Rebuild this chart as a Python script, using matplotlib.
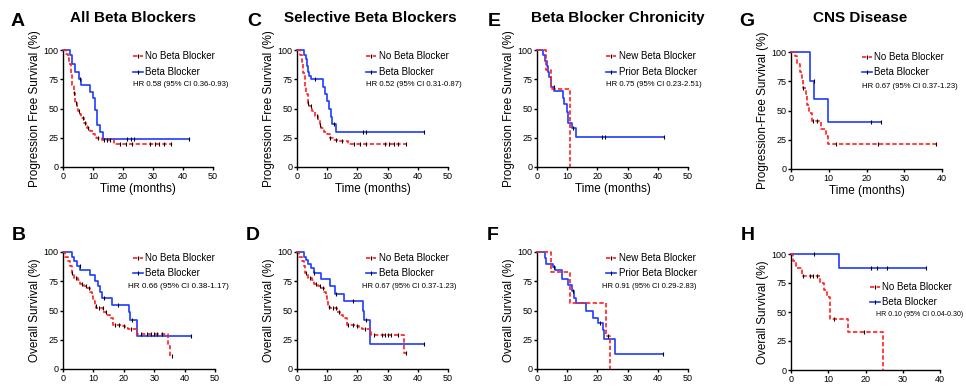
import numpy as np
import matplotlib
matplotlib.use("Agg")
import matplotlib.pyplot as plt

plt.rcParams['font.family'] = ['Liberation Sans', 'DejaVu Sans']

RED = '#ff2020'
BLUE = '#1f3cff'

# ---- data: step times (months), survival (%), end of follow-up, censor times ----
# A: PFS, all beta blockers
A_no_t = [0, 1, 1.5, 2, 2.5, 3, 3.5, 4, 4.5, 5, 5.5, 6, 7, 7.5, 8, 9, 10, 10.5, 11, 13, 17]
A_no_s = [100, 97, 93, 88, 80, 70, 63, 55, 52, 48, 45, 42, 38, 35, 33, 31, 28, 26, 25, 23, 20]
A_no_end = 36
A_no_c = [3.7, 4.3, 5.2, 6.5, 7.2, 8.4, 11.5, 13.5, 14.5, 15.5, 19, 21, 23, 29, 30.5, 32, 33.5, 36]
A_bb_t = [0, 2.2, 3, 4, 5.3, 6, 8.9, 10, 10.8, 11.3, 12.2, 13.4]
A_bb_s = [100, 96, 88, 81, 75, 70, 64, 59, 49, 36, 30, 24]
A_bb_end = 42
A_bb_c = [5.8, 21.5, 22.5, 23.5, 42]

# C: PFS, selective beta blockers
C_no_t = [0, 1, 1.5, 2, 2.5, 3, 3.5, 4, 5, 6, 7, 7.5, 8, 9, 10, 11, 12, 14, 17]
C_no_s = [100, 96, 90, 80, 68, 62, 55, 52, 48, 44, 40, 36, 33, 30, 28, 25, 23, 22, 20]
C_no_end = 36
C_no_c = [3.6, 4.5, 6.5, 7.5, 11, 13, 15, 19, 21, 23, 29, 30.5, 32, 33.5, 36]
C_bb_t = [0, 2.2, 2.9, 3.3, 3.6, 4.0, 4.8, 8.6, 9.3, 10.0, 10.6, 11.1, 11.7, 13.0]
C_bb_s = [100, 96, 92, 86, 81, 78, 75, 68, 62, 56, 50, 43, 37, 30]
C_bb_end = 42
C_bb_c = [6, 12.2, 22, 23, 42]

# E: PFS, beta blocker chronicity
E_new_t = [0, 3, 4.7, 11]
E_new_s = [100, 83, 67, 0]
E_new_end = 11
E_new_c = []
E_prior_t = [0, 2, 2.8, 3.3, 3.7, 4.0, 4.8, 5.7, 8.6, 9.1, 9.9, 10.4, 11.5, 12.8]
E_prior_s = [100, 96, 91, 86, 81, 77, 68, 65, 59, 54, 47, 38, 33, 26]
E_prior_end = 42
E_prior_c = [5.5, 11.8, 21.5, 22.5, 42]

# G: PFS, CNS disease
G_no_t = [0, 1.1, 1.5, 2.4, 2.8, 3.3, 4.0, 4.3, 4.9, 5.5, 8.0, 9.3, 9.9]
G_no_s = [100, 97, 90, 83, 76, 69, 62, 55, 48, 41, 34, 28, 21]
G_no_end = 38.5
G_no_c = [3.3, 5.8, 7, 11.8, 23, 38.5]
G_bb_t = [0, 5, 6.2, 9.9]
G_bb_s = [100, 75, 60, 40]
G_bb_end = 23.8
G_bb_c = [6.1, 21.3, 23.8]

# B: OS, all beta blockers
B_no_t = [0, 0.7, 1.8, 2.3, 2.8, 3.6, 5, 5.6, 7, 7.8, 8.9, 9.5, 10, 10.4, 11, 13.3, 14.3, 15.3, 16.5, 19.3, 20.4, 21.5, 24.5, 34.5, 35.3]
B_no_s = [100, 96, 92, 88, 82, 78, 76, 73, 71, 69, 66, 62, 58, 54, 52, 49, 46, 44, 38, 37, 35, 34, 30, 20, 11]
B_no_end = 36
B_no_c = [3, 4.2, 6.3, 7.5, 8.5, 10.7, 12, 13, 14, 17, 18.5, 20, 22.5, 25.5, 27.5, 29, 30, 31, 32.5, 36]
B_bb_t = [0, 2.8, 3.6, 4.5, 5.6, 8.9, 10.5, 11.5, 12.2, 12.7, 16.0, 21.6, 22.1, 24.2]
B_bb_s = [100, 96, 92, 88, 85, 80, 75, 71, 66, 61, 55, 49, 42, 28]
B_bb_end = 42
B_bb_c = [5.5, 13.5, 18, 22.8, 42]

# D: OS, selective beta blockers
D_no_t = [0, 0.7, 1.8, 2.3, 2.8, 3.6, 5, 5.6, 7, 7.8, 8.9, 9.5, 10, 10.4, 11, 13.3, 14.3, 15.3, 16.5, 19.3, 20.4, 21.5, 24.5, 35.5]
D_no_s = [100, 96, 92, 88, 82, 78, 76, 73, 71, 69, 66, 62, 58, 53, 52, 49, 46, 44, 38, 37, 35, 34, 29, 14]
D_no_end = 36
D_no_c = [3, 4.2, 6.3, 7.5, 8.5, 10.7, 12, 13, 14, 17, 18.5, 20, 22.5, 25.5, 28, 29, 30, 31, 33.5, 36]
D_bb_t = [0, 2.4, 3.0, 3.8, 4.7, 5.5, 8.0, 10.8, 12.5, 15.6, 21.8, 22.3, 24.2]
D_bb_s = [100, 96, 93, 90, 86, 82, 77, 71, 64, 58, 50, 42, 21]
D_bb_end = 42
D_bb_c = [5.5, 12.8, 18.5, 22.8, 42]

# F: OS, beta blocker chronicity
F_new_t = [0, 4.5, 10.8, 22.8, 24.3]
F_new_s = [100, 83, 56, 28, 0]
F_new_end = 24.3
F_new_c = [23.5]
F_prior_t = [0, 2.5, 3.1, 5.2, 5.9, 8.4, 10.3, 11.7, 12.4, 12.8, 16.3, 18.5, 20.3, 21.7, 22.2, 25.7]
F_prior_s = [100, 95, 90, 87, 85, 77, 72, 67, 61, 56, 50, 44, 39, 33, 26, 13]
F_prior_end = 41.7
F_prior_c = [5.5, 11.9, 21, 41.7]

# H: OS, CNS disease
H_no_t = [0, 0.6, 1.3, 2.9, 7.8, 8.8, 9.7, 10.4, 15.4, 24.6]
H_no_s = [100, 94, 88, 81, 75, 69, 63, 44, 33, 0]
H_no_end = 24.6
H_no_c = [3.3, 5, 6, 7, 11.5, 19.5]
H_bb_t = [0, 12.8]
H_bb_s = [100, 88]
H_bb_end = 36.3
H_bb_c = [6.2, 21.5, 23, 25.8, 36.3]

HR_text = {
    'A': 'HR 0.58 (95% CI 0.36-0.93)',
    'C': 'HR 0.52 (95% CI 0.31-0.87)',
    'E': 'HR 0.75 (95% CI 0.23-2.51)',
    'G': 'HR 0.67 (95% CI 0.37-1.23)',
    'B': 'HR 0.66 (95% CI 0.38-1.17)',
    'D': 'HR 0.67 (95% CI 0.37-1.23)',
    'F': 'HR 0.91 (95% CI 0.29-2.83)',
    'H': 'HR 0.10 (95% CI 0.04-0.30)',
}
titles = {'A': 'All Beta Blockers', 'C': 'Selective Beta Blockers',
          'E': 'Beta Blocker Chronicity', 'G': 'CNS Disease'}

W, H = 966, 388


def px_rect(l, t, r, b):
    return [l / W, 1 - b / H, (r - l) / W, (b - t) / H]


def km(ax, t, s, end, cens, color, dashed):
    t = np.asarray(t, float)
    s = np.asarray(s, float)
    ls = (0, (2.6, 1.4)) if dashed else '-'
    ax.step(np.append(t, end), np.append(s, s[-1]), where='post',
            color=color, lw=1.2, ls=ls, clip_on=False, zorder=3)
    if len(cens):
        idx = np.searchsorted(t, cens, side='right') - 1
        ax.plot(cens, s[idx], ls='none', marker='|', ms=3.5, mew=0.8,
                color='black', clip_on=False, zorder=4)


def key(ax, x, y, label, color, dashed):
    ls = (0, (2.6, 1.4)) if dashed else '-'
    ax.plot([x, x + 0.066], [y, y], transform=ax.transAxes, color=color,
            lw=1.2, ls=ls, clip_on=False)
    ax.plot([x + 0.033], [y], transform=ax.transAxes, marker='|', ms=3,
            mew=0.8, color='black', clip_on=False)
    ax.text(x + 0.08, y, label, transform=ax.transAxes, fontsize=7,
            va='center', ha='left')


fig = plt.figure(figsize=(W / 100, H / 100), dpi=100)

# panel: letter, rect(px), xmax, ylabel, curves, key labels,
# key (x frac, row1 y px, row2 y px, hr x frac, hr y px, hr size), letter pos, title x
panels = [
    ('A', (63, 50, 213, 167), 50, 'Progression Free Survival (%)',
     [(A_bb_t, A_bb_s, A_bb_end, A_bb_c, BLUE, False), (A_no_t, A_no_s, A_no_end, A_no_c, RED, True)],
     ('No Beta Blocker', 'Beta Blocker'), (0.466, 56, 72, 0.466, 85, 5.6), (18, 22), 133),
    ('C', (297, 50, 448, 167), 50, 'Progression Free Survival (%)',
     [(C_bb_t, C_bb_s, C_bb_end, C_bb_c, BLUE, False), (C_no_t, C_no_s, C_no_end, C_no_c, RED, True)],
     ('No Beta Blocker', 'Beta Blocker'), (0.46, 56, 72, 0.46, 85, 5.6), (254, 22), 370),
    ('E', (537, 50, 688, 167), 50, 'Progression Free Survival (%)',
     [(E_prior_t, E_prior_s, E_prior_end, E_prior_c, BLUE, False), (E_new_t, E_new_s, E_new_end, E_new_c, RED, True)],
     ('New Beta Blocker', 'Prior Beta Blocker'), (0.46, 56, 72, 0.46, 85, 5.6), (494, 22), 618),
    ('G', (791, 52, 942, 169), 40, 'Progression-Free Survival (%)',
     [(G_bb_t, G_bb_s, G_bb_end, G_bb_c, BLUE, False), (G_no_t, G_no_s, G_no_end, G_no_c, RED, True)],
     ('No Beta Blocker', 'Beta Blocker'), (0.47, 57, 72, 0.47, 87, 5.6), (747, 22), 860),
    ('B', (63, 252, 215, 369), 50, 'Overall Survival (%)',
     [(B_bb_t, B_bb_s, B_bb_end, B_bb_c, BLUE, False), (B_no_t, B_no_s, B_no_end, B_no_c, RED, True)],
     ('No Beta Blocker', 'Beta Blocker'), (0.46, 258, 273, 0.43, 287, 5.9), (19, 236), None),
    ('D', (297, 252, 448, 369), 50, 'Overall Survival (%)',
     [(D_bb_t, D_bb_s, D_bb_end, D_bb_c, BLUE, False), (D_no_t, D_no_s, D_no_end, D_no_c, RED, True)],
     ('No Beta Blocker', 'Beta Blocker'), (0.46, 258, 273, 0.43, 287, 5.5), (253, 236), None),
    ('F', (537, 252, 688, 369), 50, 'Overall Survival (%)',
     [(F_prior_t, F_prior_s, F_prior_end, F_prior_c, BLUE, False), (F_new_t, F_new_s, F_new_end, F_new_c, RED, True)],
     ('New Beta Blocker', 'Prior Beta Blocker'), (0.46, 258, 273, 0.43, 287, 5.5), (493, 236), None),
    ('H', (791, 254, 940, 370), 40, 'Overall Survival (%)',
     [(H_bb_t, H_bb_s, H_bb_end, H_bb_c, BLUE, False), (H_no_t, H_no_s, H_no_end, H_no_c, RED, True)],
     ('No Beta Blocker', 'Beta Blocker'), (0.53, 287, 302, 0.57, 315, 5.0), (748, 236), None),
]

for letter, rect, xmax, ylab, curves, labels, kp, lpos, tx in panels:
    l, t, r, b = rect
    ax = fig.add_axes(px_rect(l, t, r, b))
    for c in curves:
        km(ax, *c)
    ax.set_xlim(0, xmax)
    ax.set_ylim(0, 100)
    ax.set_xticks(np.arange(0, xmax + 1, 10))
    ax.set_yticks([0, 25, 50, 75, 100])
    for sp in ('top', 'right'):
        ax.spines[sp].set_visible(False)
    for sp in ('left', 'bottom'):
        ax.spines[sp].set_linewidth(1.0)
    ax.tick_params(direction='out', length=2.5, width=1.0, labelsize=6.5, pad=0.8)
    ax.set_ylabel(ylab, fontsize=8.5, labelpad=1.5)
    if tx is not None:
        ax.set_xlabel('Time (months)', fontsize=8.5, labelpad=2)
        fig.text(tx / W, 1 - 18 / H, titles[letter], fontsize=11, fontweight='bold',
                 ha='center', va='center')
    fig.text(lpos[0] / W, 1 - lpos[1] / H, letter, fontsize=14, fontweight='bold',
             ha='center', va='center')

    kx, y1, y2, hx, hy, hs = kp
    h = b - t
    # first label goes with the red dashed curve, second with the blue one
    key(ax, kx, (b - y1) / h, labels[0], RED, True)
    key(ax, kx, (b - y2) / h, labels[1], BLUE, False)
    ax.text(hx, (b - hy) / h, HR_text[letter], transform=ax.transAxes,
            fontsize=hs, va='center', ha='left')

fig.savefig('out.png', dpi=100)
